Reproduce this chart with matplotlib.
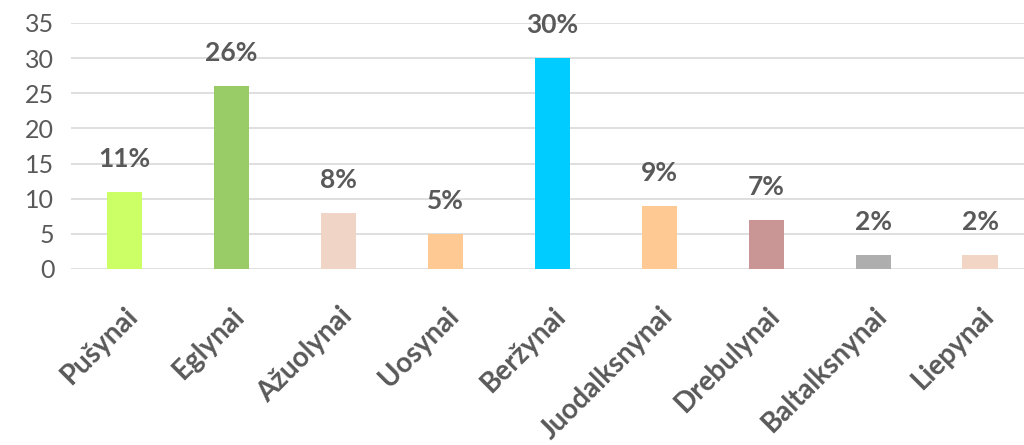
import matplotlib
matplotlib.use("Agg")
import matplotlib.pyplot as plt

# Forest types and their share (%)
categories = ["Pušynai", "Eglynai", "Ažuolynai", "Uosynai", "Beržynai",
              "Juodalksnynai", "Drebulynai", "Baltalksnynai", "Liepynai"]
shares = [11, 26, 8, 5, 30, 9, 7, 2, 2]
bar_colors = ["#CCFF66", "#99CC66", "#F0D5C6", "#FFC993", "#00CCFF",
              "#FFC993", "#C99595", "#AEAEAE", "#F2D5C5"]
y_ticks = [0, 5, 10, 15, 20, 25, 30, 35]

TEXT_GRAY = "#595959"
GRID_GRAY = "#D9D9D9"

fig = plt.figure(figsize=(10.24, 4.45), dpi=100)
ax = fig.add_axes([71 / 1024, 1 - 269 / 445, 953 / 1024, (269 - 23) / 445])

x = range(len(categories))
ax.bar(x, shares, width=0.33, color=bar_colors, zorder=3)

# percentage labels above the bars
for xi, v in zip(x, shares):
    ax.annotate(f"{v}%", (xi, v), xytext=(0, 18), textcoords="offset points",
                ha="center", va="baseline", fontsize=19, fontweight="bold",
                color=TEXT_GRAY, family="Lato")

ax.set_xlim(-0.5, 8.41)
ax.set_ylim(0, 35)
ax.set_yticks(y_ticks)
ax.yaxis.grid(True, color=GRID_GRAY, linewidth=1.2, zorder=0)
ax.set_axisbelow(True)
for s in ax.spines.values():
    s.set_visible(False)
ax.tick_params(axis="both", length=0)
ax.tick_params(axis="y", pad=12)

for lab in ax.get_yticklabels():
    lab.set_fontsize(18)
    lab.set_color(TEXT_GRAY)
    lab.set_family("Lato")

ax.set_xticks(list(x))
ax.set_xticklabels(categories, rotation=45, ha="right", va="top",
                   rotation_mode="anchor", fontsize=20, fontweight="bold",
                   color=TEXT_GRAY, family="Lato")
ax.tick_params(axis="x", pad=24)

fig.savefig("out.png", dpi=100)
